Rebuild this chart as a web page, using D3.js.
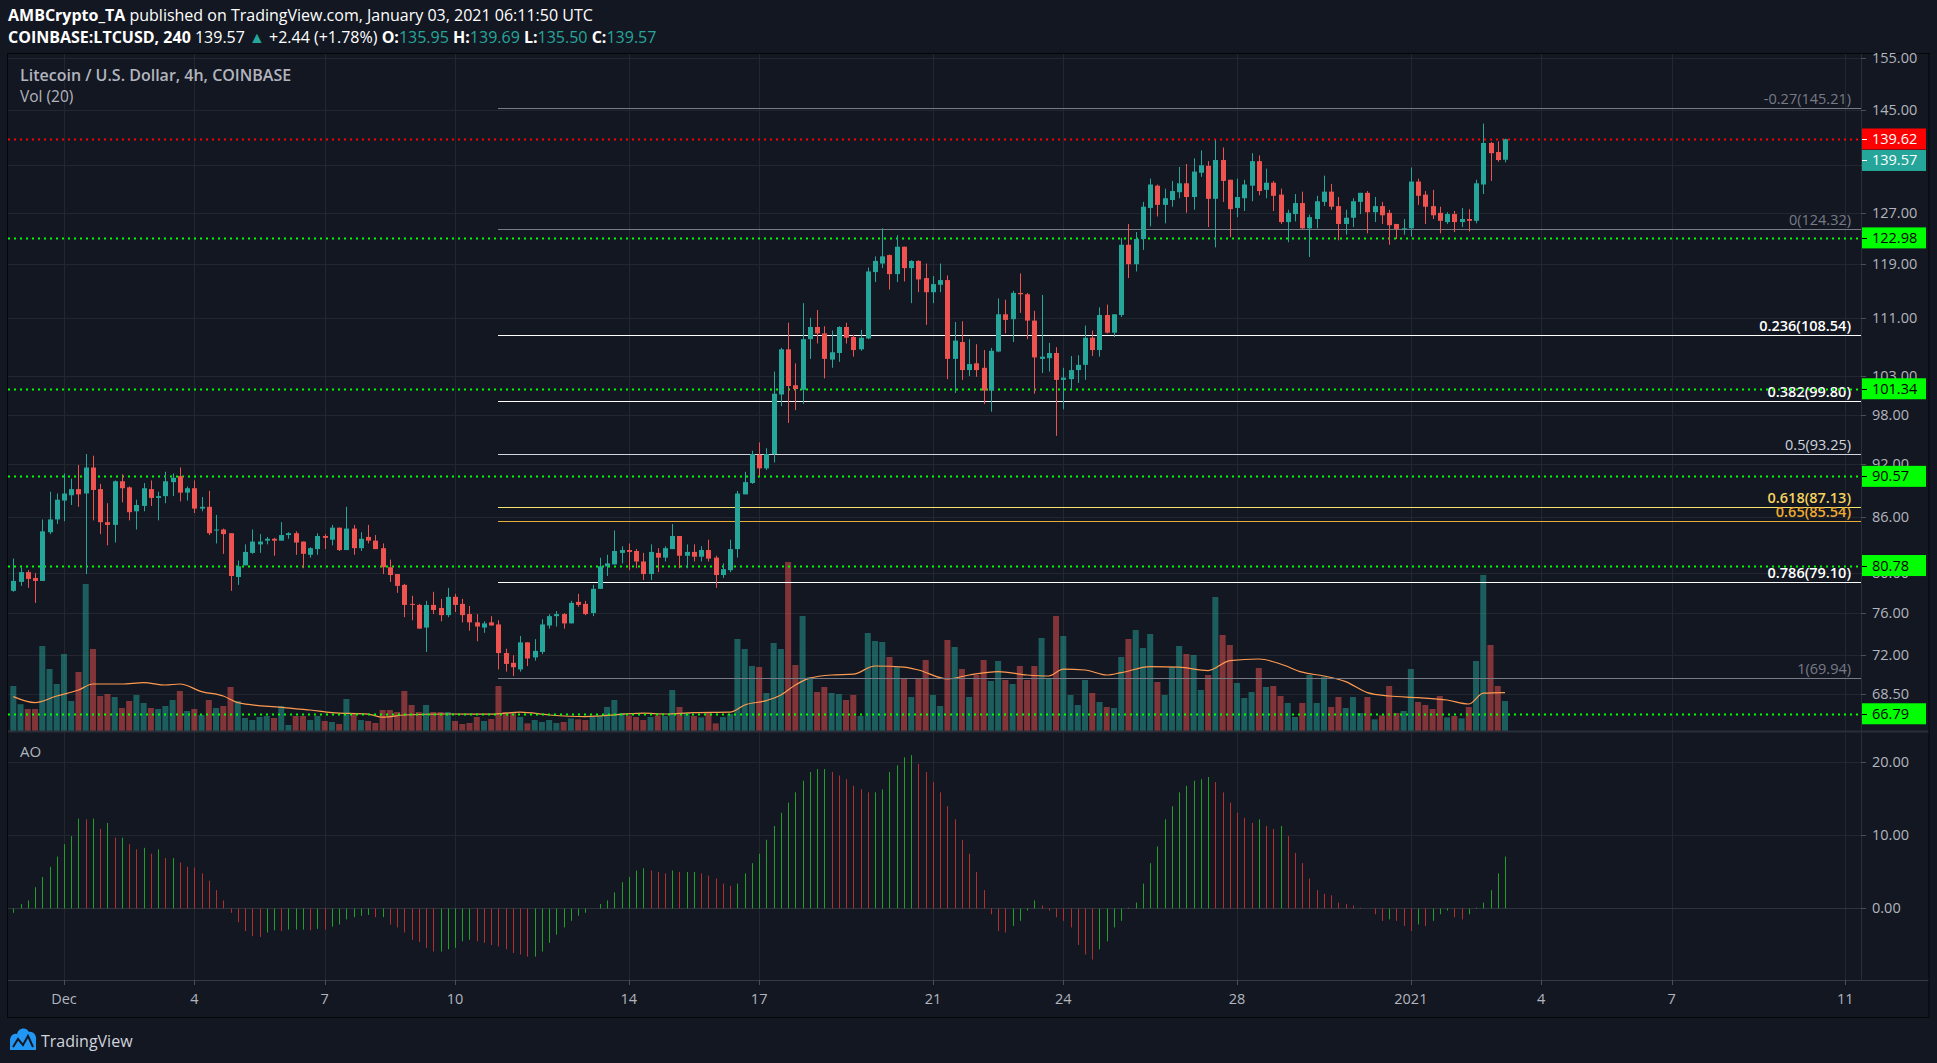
<!DOCTYPE html>
<html><head><meta charset="utf-8">
<script src="https://cdn.jsdelivr.net/npm/d3@7"></script>
<style>body{margin:0;background:#131722;overflow:hidden}svg{display:block}</style>
</head><body><svg id="c" width="1937" height="1063"></svg>
<script>
// ---------- DATA (LTCUSD, 4h bars from 2020-11-29 20:00 UTC) ----------
const barStart = "2020-11-29T20:00:00Z";
const open = [78.2,79.1,80.1,79.5,79.2,84.3,85.7,87.8,88.4,89.1,88.6,91.6,89.1,85.4,85.1,90.0,89.3,86.6,87.2,89.1,88.1,88.3,89.9,90.6,88.7,89.2,86.9,87.1,84.5,84.6,84.2,79.6,80.8,82.1,83.0,83.4,83.6,83.4,84.0,84.2,83.3,81.9,82.5,83.9,83.5,84.8,82.4,84.7,82.6,83.8,83.4,82.6,80.6,79.9,78.8,76.9,76.8,74.6,76.8,76.5,75.8,77.6,76.9,75.9,75.1,74.6,75.1,74.9,72.2,71.3,70.7,73.2,71.8,72.3,74.8,75.7,75.9,75.0,77.1,76.9,76.0,78.4,80.7,80.9,82.1,82.4,82.3,81.2,79.9,82.1,81.6,82.5,83.9,81.8,82.2,81.7,82.4,81.6,79.8,80.3,82.5,88.5,89.8,93.1,91.5,93.2,100.6,106.6,101.8,101.2,108.0,109.7,108.8,105.2,106.1,109.7,108.3,106.6,108.1,117.7,119.0,120.3,117.4,121.6,118.3,119.4,116.8,114.7,115.8,116.5,105.3,107.6,103.8,104.7,104.1,101.1,106.3,111.5,110.8,114.6,114.4,110.6,105.3,105.4,106.1,102.5,102.6,103.8,104.5,108.2,106.5,111.4,108.9,111.4,121.9,118.9,122.8,127.8,131.5,128.3,129.1,130.4,131.9,129.6,133.7,134.9,129.3,135.9,132.5,127.8,129.4,131.5,135.7,130.8,132.0,130.0,125.5,126.8,128.6,124.5,126.0,128.8,130.5,128.1,125.2,126.2,128.8,130.3,127.1,128.1,127.0,125.2,124.4,124.5,132.2,130.0,128.1,127.0,125.5,126.8,125.5,126.0,125.7,131.7,138.9,137.3,135.95];
const high = [81.5,80.6,80.3,80.0,85.7,88.8,88.6,90.9,90.3,91.9,93.2,93.0,89.7,87.5,90.1,90.8,89.4,87.9,89.8,90.1,88.8,91.1,90.9,91.6,89.4,90.1,88.2,88.9,86.2,84.7,84.2,81.3,83.0,84.6,84.1,83.8,83.7,85.4,84.3,84.4,83.3,82.7,84.2,84.1,85.1,84.8,87.1,85.1,84.3,85.1,84.0,83.1,81.4,79.9,78.9,77.7,76.9,77.2,78.1,77.4,78.5,77.9,77.4,76.7,75.9,75.2,75.7,75.3,72.6,72.0,73.8,73.2,73.5,75.4,75.9,76.2,76.0,77.2,77.9,77.2,78.8,81.6,81.9,84.5,82.8,83.1,82.5,82.1,83.0,82.6,82.8,85.2,83.9,83.0,83.0,82.8,83.5,81.8,81.0,83.5,88.9,91.1,93.6,94.6,93.9,103.6,106.8,110.3,104.7,113.1,111.0,112.1,109.8,109.2,109.8,110.3,108.6,109.3,118.4,120.1,124.5,120.4,123.4,121.6,119.5,119.5,119.0,117.1,119.0,117.2,110.4,110.5,108.0,107.3,106.5,106.8,113.8,113.6,114.9,117.5,114.6,112.0,114.3,107.5,106.9,104.1,105.7,105.8,109.9,109.2,112.5,112.9,111.5,123.0,125.2,123.9,128.8,132.7,131.7,131.0,132.3,134.7,135.2,136.2,137.6,135.7,139.4,138.1,132.5,132.7,132.5,137.1,136.7,134.4,132.3,131.0,127.5,130.1,130.5,126.7,129.8,133.2,131.8,129.6,127.5,129.4,130.3,130.6,129.6,128.8,127.5,125.2,126.0,134.6,132.7,130.6,130.8,128.0,127.1,127.3,127.8,127.6,132.5,142.4,139.1,139.2,139.69];
const low = [78.1,78.7,78.5,77.0,79.2,84.1,85.2,85.5,87.3,87.1,79.9,85.6,84.1,82.9,83.2,87.6,85.6,84.6,86.6,87.2,85.6,87.5,88.3,87.7,87.8,86.4,86.6,84.0,83.1,82.0,78.2,78.8,80.8,82.0,82.1,83.0,81.8,83.4,83.6,81.9,80.5,81.6,81.9,82.5,82.9,82.3,82.4,81.9,82.3,83.1,82.5,79.9,79.1,78.0,75.6,75.3,74.5,72.3,75.9,75.2,75.6,76.1,75.1,74.3,73.3,74.1,74.8,70.7,70.5,70.1,70.5,71.0,71.5,72.1,74.5,74.7,74.5,75.0,76.6,75.8,75.7,78.4,79.7,80.9,81.0,80.3,80.5,79.3,79.3,80.1,81.2,82.5,80.5,80.5,81.2,81.2,81.2,78.5,79.5,80.1,81.6,88.5,89.7,90.6,91.3,92.2,99.1,97.0,98.6,99.4,105.3,107.4,102.7,104.1,104.9,107.4,105.6,106.4,108.0,116.2,118.3,115.1,116.2,116.3,113.1,114.7,110.0,113.1,114.7,102.6,100.8,102.5,103.0,102.9,99.4,98.4,106.2,108.8,107.6,111.7,108.0,100.7,103.4,103.6,95.4,98.7,101.3,102.1,102.5,105.7,105.6,108.8,108.3,111.1,116.8,117.8,121.1,124.8,126.4,125.3,128.0,129.4,127.0,127.5,133.0,124.7,121.5,128.8,123.1,126.3,127.3,128.9,129.9,129.4,127.3,125.2,122.3,125.6,124.4,120.0,124.5,128.1,127.5,122.6,123.5,124.7,126.8,123.7,125.5,125.2,121.9,122.8,123.5,123.2,128.3,125.2,126.0,123.7,125.2,123.9,124.7,124.0,125.3,130.1,132.3,135.6,135.50];
const close = [79.2,80.1,79.4,79.2,84.4,85.7,87.9,88.6,89.1,88.5,91.6,89.0,85.4,85.1,90.0,89.2,86.5,87.3,89.2,88.1,88.3,90.0,90.4,88.7,89.2,86.9,87.1,84.2,84.6,84.1,79.7,80.7,82.2,83.3,83.3,83.6,83.4,84.0,84.2,83.2,82.0,82.6,83.9,83.7,84.8,82.4,84.7,82.6,83.6,83.4,82.5,80.6,79.8,78.7,76.8,76.8,74.5,76.8,76.3,75.8,77.6,76.8,75.8,75.1,74.7,75.0,74.8,72.2,71.2,70.9,73.2,71.7,72.4,74.9,75.7,75.9,75.0,77.0,76.8,75.9,78.4,80.7,81.0,82.3,82.4,82.2,81.2,79.9,82.2,81.6,82.6,83.9,81.8,82.2,81.7,82.4,81.5,79.8,80.4,82.5,88.6,89.9,93.2,91.5,93.2,100.7,106.6,101.7,101.3,108.0,109.7,108.8,105.3,106.2,109.7,108.2,106.5,108.2,117.8,119.4,120.1,117.4,121.6,118.3,119.4,116.6,114.7,115.9,116.5,105.3,107.8,103.8,104.6,103.8,101.1,106.4,111.5,110.7,114.6,114.4,110.6,105.5,105.6,106.1,102.5,102.8,103.8,104.5,108.2,106.5,111.4,108.9,111.5,121.9,118.9,122.8,128.0,131.7,128.3,129.4,130.6,131.9,129.6,133.9,135.0,129.3,135.9,132.3,127.6,129.6,131.7,135.7,130.6,132.0,129.8,125.5,127.0,128.6,124.5,126.3,128.9,130.5,128.0,125.2,126.2,128.9,130.3,127.1,128.1,126.6,125.0,124.4,124.5,132.2,129.8,128.0,126.6,125.7,126.8,125.5,126.0,125.7,131.9,138.9,137.1,135.9,139.57];
// volume in thousands
const volume = [225,134,110,110,425,310,235,385,150,295,735,410,175,185,170,115,150,180,140,115,110,125,155,200,100,110,80,155,115,125,220,150,65,55,70,75,65,125,30,75,75,55,75,50,45,35,160,85,55,50,40,105,105,95,200,130,95,130,95,95,95,50,35,40,70,50,60,225,95,95,70,38,55,45,55,40,45,63,58,55,70,78,120,155,90,78,70,55,70,78,75,205,120,90,75,68,90,38,70,85,460,410,325,320,190,440,410,845,330,575,270,195,220,190,185,155,180,75,490,450,445,370,320,265,170,260,355,180,125,455,420,310,170,280,355,250,350,255,235,325,255,325,465,265,575,475,180,130,255,190,145,120,115,370,460,505,415,485,245,180,320,425,385,380,205,280,670,480,430,240,165,195,315,220,225,175,140,70,140,280,140,270,120,170,115,170,90,170,58,78,225,90,100,310,145,130,110,175,68,75,63,120,350,780,430,225,150];
// 20-period volume MA, read at selected bars
const volMaBar = [0,3,6,9,11,15,18,21,23,26,29,31,37,41,44,49,51,54,60,66,70,74,79,81,87,90,94,99,101,104,106,108,110,113,116,119,123,125,129,132,136,140,143,145,148,151,153,157,161,165,168,172,175,178,181,184,187,190,194,198,201,203,206];
const volMaValue = [172,142,175,205,235,235,242,230,235,197,175,142,118,105,92,84,69,80,85,84,94,80,72,75,89,85,92,94,130,152,180,230,264,280,284,325,319,305,260,280,297,280,275,309,305,280,292,322,319,302,352,360,335,294,275,247,192,175,167,155,135,189,192];
// Awesome Oscillator
const ao = [-0.6,0.6,1.1,2.9,4.3,5.7,7.1,8.8,9.9,12.3,12.2,12.3,10.9,11.7,9.7,9.7,8.8,8.1,8.3,7.5,8.1,6.9,6.9,6.3,5.7,5.6,4.8,3.8,2.5,1.1,-0.6,-1.9,-3.1,-3.8,-3.9,-3.3,-3.0,-3.1,-2.9,-2.9,-2.9,-3.0,-2.8,-2.9,-2.5,-2.2,-1.5,-1.2,-1.0,-0.9,-1.2,-1.2,-2.2,-2.6,-3.3,-4.3,-4.6,-5.4,-5.9,-5.9,-5.6,-5.4,-4.5,-4.3,-4.5,-4.7,-5.0,-5.2,-5.6,-6.1,-6.3,-6.6,-6.6,-5.9,-4.7,-3.6,-2.6,-1.7,-1.0,-0.6,0.0,0.6,1.1,2.2,3.6,4.3,5.2,5.5,5.2,5.0,4.8,5.2,5.0,5.0,5.0,4.8,4.5,4.1,3.4,3.1,3.4,4.8,6.2,7.5,9.4,11.3,13.1,14.5,15.9,17.5,18.7,19.1,19.1,18.7,18.2,17.7,16.8,16.3,15.9,15.9,16.3,18.7,19.6,20.7,21.0,19.8,18.7,17.3,15.9,14.0,12.2,9.4,7.5,5.0,2.5,-0.8,-3.1,-3.3,-2.4,-1.7,-0.3,1.1,0.4,-0.3,-1.2,-1.7,-2.6,-5.0,-6.3,-7.0,-5.6,-4.5,-2.6,-1.7,0.1,0.8,3.4,6.2,8.5,12.2,14.0,15.9,16.8,17.5,17.7,18.0,17.3,15.9,14.5,13.1,12.4,11.7,12.2,11.3,10.9,11.3,9.9,7.6,6.2,4.1,2.5,2.0,1.8,0.8,0.6,0.4,0.1,0.0,-0.8,-1.7,-1.5,-1.7,-2.4,-3.1,-2.2,-2.4,-1.7,-0.8,-0.3,-1.2,-1.5,-0.8,0.1,0.8,2.5,4.8,7.1];
const priceTicks = [155,145,135,127,119,111,103,98,92,86,80,76,72,68.5];
const aoTicks = [20,10,0];
const dateTickDates = ["2020-12-01","2020-12-04","2020-12-07","2020-12-10","2020-12-14","2020-12-17","2020-12-21","2020-12-24","2020-12-28","2021-01-01","2021-01-04","2021-01-07","2021-01-11"];
const dateTickLabels = ["Dec","4","7","10","14","17","21","24","28","2021","4","7","11"];
const fibRatios = ["-0.27","0","0.236","0.382","0.5","0.618","0.65","0.786","1"];
const fibPrices = [145.21,124.32,108.54,99.80,93.25,87.13,85.54,79.10,69.94];
const supportLevels = [122.98,101.34,90.57,80.78,66.79];
const markLevel = 139.62;
const lastClose = 139.57;

// ---------- LAYOUT ----------
const W=1937,H=1063, L=8, R=1861, PT=53, PB=731, AB=980, FB=1017, FR=1929;
const svg=d3.select('#c');
const FONT="'Open Sans', 'Noto Sans', sans-serif";
svg.append('rect').attr('width',W).attr('height',H).attr('fill','#131722');

const t0=new Date(barStart).getTime(), bar=4*3600e3;
const times=open.map((_,i)=>new Date(t0+i*bar));
const x=d3.scaleUtc().domain([times[0],times[times.length-1]]).range([13.3,1505]);
const y=d3.scaleLog().domain([65.33,155.9]).range([PB,PT]);
const yv=d3.scaleLinear().domain([0,3390]).range([PB,PT]);
const ya=d3.scaleLinear().domain([-9.8,24.3]).range([AB,PB]);

const defs=svg.append('defs');
defs.append('clipPath').attr('id','cp').append('rect').attr('x',L).attr('y',PT).attr('width',R-L).attr('height',PB-PT);
defs.append('clipPath').attr('id','ca').append('rect').attr('x',L).attr('y',PB).attr('width',R-L).attr('height',AB-PB);

const gridC='#22262f';
const g=svg.append('g');
const dTicks=dateTickDates.map(d=>new Date(d+"T00:00:00Z"));
g.selectAll('.vg').data(dTicks).join('line').attr('x1',d=>Math.round(x(d))+0.5).attr('x2',d=>Math.round(x(d))+0.5)
 .attr('y1',PT).attr('y2',AB).attr('stroke',gridC);
g.selectAll('.hg').data(priceTicks).join('line').attr('x1',L).attr('x2',R)
 .attr('y1',d=>Math.round(y(d))+0.5).attr('y2',d=>Math.round(y(d))+0.5).attr('stroke',gridC);
g.selectAll('.ag').data(aoTicks).join('line').attr('x1',L).attr('x2',R)
 .attr('y1',d=>Math.round(ya(d))+0.5).attr('y2',d=>Math.round(ya(d))+0.5).attr('stroke',d=>d===0?'#2e323d':gridC);

// price pane content
const pp=svg.append('g').attr('clip-path','url(#cp)');
const up=i=>close[i]>=open[i];
pp.selectAll('.vb').data(volume).join('rect')
 .attr('x',(d,i)=>x(times[i])-3).attr('width',6)
 .attr('y',d=>yv(d)).attr('height',d=>PB-yv(d))
 .attr('fill',(d,i)=>up(i)?'rgba(38,166,154,0.5)':'rgba(239,83,80,0.5)');
pp.append('path').datum(volMaBar.map((b,k)=>[x(times[b]),yv(volMaValue[k])]))
 .attr('d',d3.line().curve(d3.curveMonotoneX)).attr('fill','none').attr('stroke','#ff9a50').attr('stroke-width',1.2);

// fib lines
const fibColor=["#787b86","#787b86","#ffffff","#ffffff","#d1d4dc","#f5e36a","#e8ad38","#ffffff","#787b86"];
const fibLabelColor=["#787b86","#787b86","#ffffff","#ffffff","#d1d4dc","#f5d35e","#f0aa30","#ffffff","#787b86"];
const fibBold=[false,false,true,true,false,true,true,true,false];
pp.selectAll('.fl').data(fibPrices).join('line').attr('x1',498).attr('x2',R)
 .attr('y1',d=>Math.round(y(d))+0.5).attr('y2',d=>Math.round(y(d))+0.5).attr('stroke',(d,i)=>fibColor[i]).attr('stroke-width',1.2);
pp.selectAll('.ft').data(fibPrices).join('text').attr('x',1851).attr('y',d=>Math.round(y(d))-4)
 .attr('text-anchor','end').attr('font-family',FONT).attr('font-size',14.5)
 .attr('font-weight',(d,i)=>fibBold[i]?600:400).attr('fill',(d,i)=>fibLabelColor[i])
 .text((d,i)=>`${fibRatios[i]}(${d.toFixed(2)})`);

// support lines
pp.selectAll('.sl').data(supportLevels).join('line').attr('x1',L).attr('x2',R)
 .attr('y1',d=>Math.round(y(d))+0.5).attr('y2',d=>Math.round(y(d))+0.5)
 .attr('stroke','#00ff00').attr('stroke-width',2).attr('stroke-dasharray','2,4');
pp.append('line').attr('x1',L).attr('x2',R).attr('y1',Math.round(y(markLevel))+0.5).attr('y2',Math.round(y(markLevel))+0.5)
 .attr('stroke','#ff0000').attr('stroke-width',2).attr('stroke-dasharray','2,4');

// candles
const cg=pp.append('g');
open.forEach((o,i)=>{
  const c=close[i], col=up(i)?'#26a69a':'#ef5350', cx=Math.round(x(times[i]));
  cg.append('line').attr('x1',cx+0.5).attr('x2',cx+0.5).attr('y1',y(high[i])).attr('y2',y(low[i])).attr('stroke',col);
  const top=y(Math.max(o,c)), bot=y(Math.min(o,c));
  cg.append('rect').attr('x',cx-2).attr('width',5).attr('y',top).attr('height',Math.max(1,bot-top)).attr('fill',col);
});

// AO
const ag=svg.append('g').attr('clip-path','url(#ca)');
ag.selectAll('line').data(ao).join('line')
 .attr('x1',(d,i)=>Math.round(x(times[i]))+0.5).attr('x2',(d,i)=>Math.round(x(times[i]))+0.5)
 .attr('y1',ya(0)).attr('y2',d=>ya(d))
 .attr('stroke',(d,i)=>(i===0||d>=ao[i-1])?'#1f9e2a':'#b0302e').attr('stroke-width',1);

// separators / frame
svg.append('line').attr('x1',L).attr('x2',FR).attr('y1',PB+0.5).attr('y2',PB+0.5).attr('stroke','#2a2e39').attr('stroke-width',2);
svg.append('line').attr('x1',R+0.5).attr('x2',R+0.5).attr('y1',PT).attr('y2',AB).attr('stroke','#2a2e39');
svg.append('line').attr('x1',L).attr('x2',FR).attr('y1',AB+0.5).attr('y2',AB+0.5).attr('stroke','#363a45');
svg.append('rect').attr('x',7.5).attr('y',PT+0.5).attr('width',FR-7.5).attr('height',FB-PT).attr('fill','none').attr('stroke','#050608');

// price axis labels
const axC='#b2b5be';
const ax=svg.append('g').attr('font-family',FONT).attr('font-size',14.5).attr('fill',axC);
ax.selectAll('.pt').data(priceTicks).join('text').attr('x',1872).attr('y',d=>y(d)+5).text(d=>d.toFixed(2));
ax.selectAll('.pk').data(priceTicks).join('line').attr('x1',R).attr('x2',R+5).attr('y1',d=>Math.round(y(d))+0.5).attr('y2',d=>Math.round(y(d))+0.5).attr('stroke','#4a4e59');
ax.selectAll('.at').data(aoTicks).join('text').attr('x',1872).attr('y',d=>ya(d)+5).text(d=>d.toFixed(2));
ax.selectAll('.ak').data(aoTicks).join('line').attr('x1',R).attr('x2',R+5).attr('y1',d=>Math.round(ya(d))+0.5).attr('y2',d=>Math.round(ya(d))+0.5).attr('stroke','#4a4e59');
ax.selectAll('.dt').data(dTicks).join('text').attr('x',d=>x(d)).attr('y',1004).attr('text-anchor','middle').text((d,i)=>dateTickLabels[i]);
ax.selectAll('.dk').data(dTicks).join('line').attr('x1',d=>Math.round(x(d))+0.5).attr('x2',d=>Math.round(x(d))+0.5).attr('y1',AB).attr('y2',AB+5).attr('stroke','#4a4e59');

// price label boxes
function box(v,cy,bg,fg){
  const b=svg.append('g');
  b.append('rect').attr('x',R+1).attr('y',cy-10.5).attr('width',64).attr('height',21).attr('fill',bg);
  b.append('line').attr('x1',R+1).attr('x2',R+6).attr('y1',Math.round(cy)+0.5).attr('y2',Math.round(cy)+0.5).attr('stroke',fg);
  b.append('text').attr('x',1872).attr('y',cy+5).attr('font-family',FONT).attr('font-size',14.5).attr('fill',fg).text(v.toFixed(2));
}
supportLevels.forEach(v=>box(v,y(v),'#00ff00','#000000'));
const redY=y(markLevel);
box(markLevel,redY,'#ff0000','#ffffff');
box(lastClose,Math.max(y(lastClose),redY+21.5),'#26a69a','#ffffff');

// legends
svg.append('text').attr('x',20).attr('y',81).attr('font-family',FONT).attr('font-size',16).attr('font-weight',600).attr('fill','#b2b5be').text('Litecoin / U.S. Dollar, 4h, COINBASE');
svg.append('text').attr('x',20).attr('y',102).attr('font-family',FONT).attr('font-size',15.5).attr('fill','#b2b5be').text('Vol (20)');
svg.append('text').attr('x',20).attr('y',757).attr('font-family',FONT).attr('font-size',15).attr('fill','#b2b5be').text('AO');

// header
const h1=svg.append('text').attr('x',8).attr('y',21).attr('font-family',FONT).attr('font-size',16).attr('fill','#ffffff');
h1.append('tspan').attr('font-weight',700).text('AMBCrypto_TA');
h1.append('tspan').text(' published on TradingView.com, January 03, 2021 06:11:50 UTC');
const h2=svg.append('text').attr('x',8).attr('y',43).attr('font-family',FONT).attr('font-size',16).attr('fill','#ffffff');
const T='#26a69a';
[['COINBASE:LTCUSD, 240',700,'#fff'],[' 139.57 ',400,'#fff'],['▲',400,T],[' +2.44 (+1.78%) ',400,'#fff'],['O:',700,'#fff'],['135.95',400,T],[' H:',700,'#fff'],['139.69',400,T],[' L:',700,'#fff'],['135.50',400,T],[' C:',700,'#fff'],['139.57',400,T]]
 .forEach(([s,w,c])=>h2.append('tspan').attr('font-weight',w).attr('fill',c).text(s));

// TradingView logo
const lg=svg.append('g');
lg.append('path').attr('d','M10,1050 L10,1041 C10,1036 13,1033 17,1034 C18,1028 26,1026 29,1032 C33,1031 37,1035 36,1041 L36,1050 Z').attr('fill','#2196f3');
lg.append('path').attr('d','M13,1047 L18,1039 L23,1045 L28,1036 L33,1047').attr('fill','none').attr('stroke','#131722').attr('stroke-width',2);
svg.append('text').attr('x',41).attr('y',1047).attr('font-family',FONT).attr('font-size',16).attr('fill','#d1d4dc').text('TradingView');
</script></body></html>
